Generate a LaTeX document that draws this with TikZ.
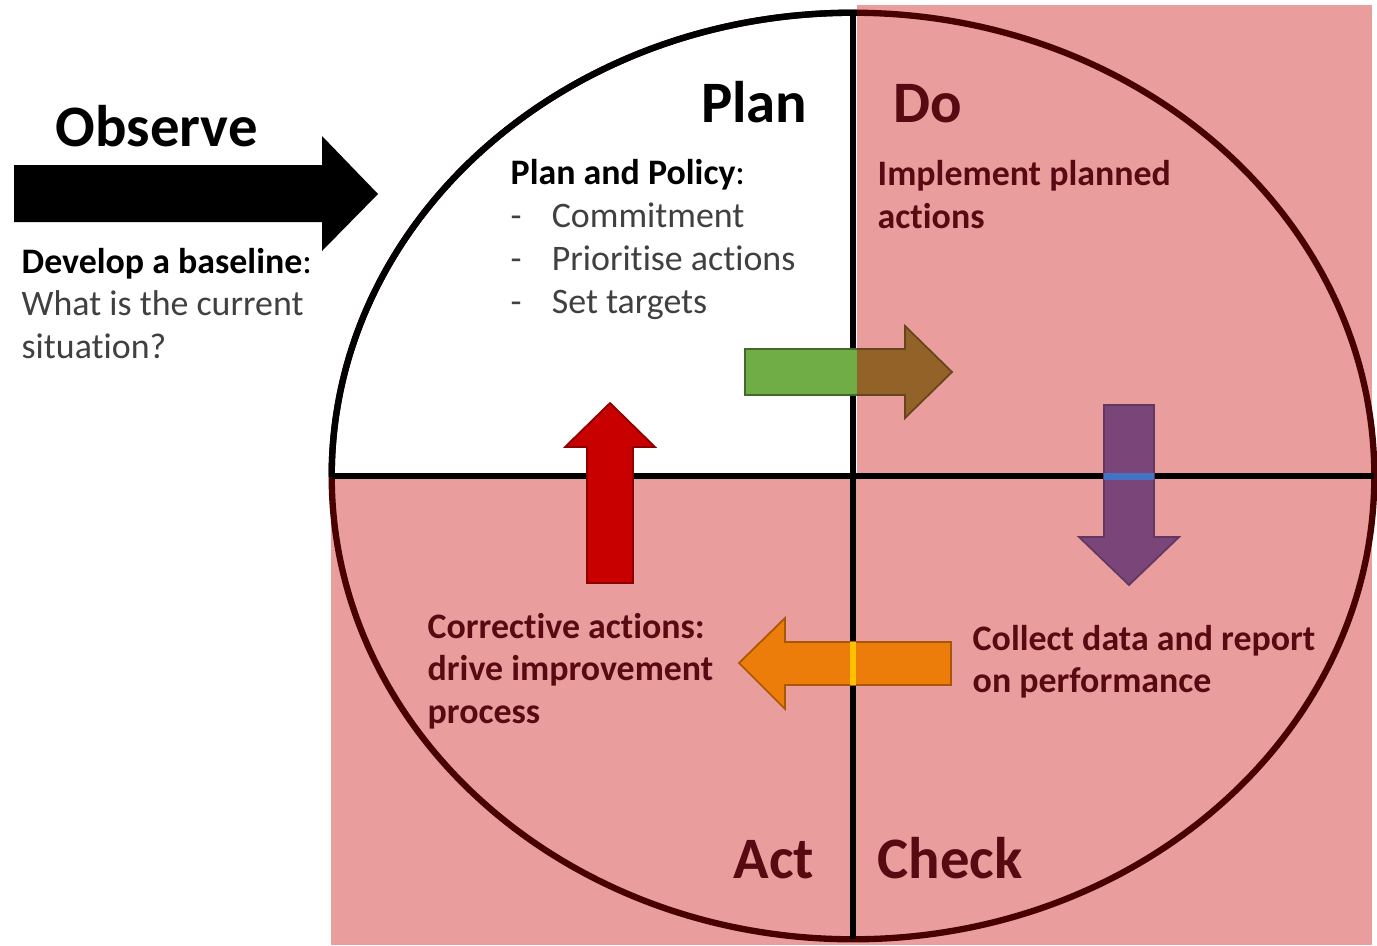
\documentclass[tikz,border=0pt]{standalone}
\usepackage{fontspec}
\setmainfont{Carlito}[Ligatures=NoCommon]
\usetikzlibrary{shapes.geometric}
\definecolor{pinkbg}{RGB}{234,157,157}
\definecolor{ringdark}{RGB}{72,0,0}
\definecolor{maroontxt}{RGB}{88,10,18}
\definecolor{graytxt}{RGB}{64,64,64}
\definecolor{arrgreen}{RGB}{112,173,71}
\definecolor{arrbrown}{RGB}{146,98,40}
\definecolor{arrpurple}{RGB}{122,70,122}
\definecolor{arrblue}{RGB}{68,114,196}
\definecolor{arrorange}{RGB}{237,125,10}
\definecolor{arryellow}{RGB}{255,192,0}
\definecolor{arrred}{RGB}{200,0,0}
\begin{document}
\begin{tikzpicture}[x=0.01cm,y=-0.01cm,
  big/.style={font=\fontsize{16.7}{20}\selectfont\bfseries, inner sep=0pt},
  txt/.style={font=\fontsize{10.2}{12}\selectfont, inner sep=0pt, anchor=base west},
  boldtxt/.style={txt, font=\fontsize{10.2}{12}\selectfont\bfseries},
  crossline/.style={line width=1.7pt, black},
  ringline/.style={line width=1.8pt},
  blockarrow/.style={line width=0.5pt}]
\useasboundingbox (0,0) rectangle (1377,945);
\fill[white] (0,0) rectangle (1377,945);
% pink quadrants
\fill[pinkbg] (857,5) rectangle (1372,945);
\fill[pinkbg] (331,478) rectangle (857,945);
% ring
\node[ellipse, draw=ringdark, ringline, minimum width=10.42cm, minimum height=9.26cm,
      inner sep=0pt, outer sep=0pt] (cycle) at (853,476) {};
\begin{scope}
  \clip (300,0) rectangle (857,476);
  \draw[black, ringline] (cycle.center) ellipse [x radius=5.21cm, y radius=4.63cm];
\end{scope}
\draw[crossline] (cycle.north) -- (cycle.south);
\draw[crossline] (cycle.west) -- (cycle.east);
% observe arrow
\fill[black] (14,165) -- (322,165) -- (322,136) -- (378,194) -- (322,251) -- (322,222) -- (14,222) -- cycle;
% green / brown arrow
\begin{scope}
  \clip (700,300) rectangle (857,450);
  \filldraw[fill=arrgreen, draw=arrgreen!60!black, blockarrow] (745,349) -- (905,349) -- (905,326) -- (952,372) -- (905,418) -- (905,395) -- (745,395) -- cycle;
\end{scope}
\begin{scope}
  \clip (857,300) rectangle (1000,450);
  \filldraw[fill=arrbrown, draw=arrbrown!70!black, blockarrow] (745,349) -- (905,349) -- (905,326) -- (952,372) -- (905,418) -- (905,395) -- (745,395) -- cycle;
\end{scope}
% purple arrow
\filldraw[fill=arrpurple, draw=arrpurple!80!black, blockarrow] (1104,405) -- (1154,405) -- (1154,537) -- (1179,537) -- (1129,585) -- (1079,537) -- (1104,537) -- cycle;
\fill[arrblue] (1104.3,473) rectangle (1153.7,479.5);
% orange arrow
\filldraw[fill=arrorange, draw=arrorange!70!black, blockarrow] (951,642) -- (785,642) -- (785,618) -- (739,663) -- (785,709) -- (785,685) -- (951,685) -- cycle;
\fill[arryellow] (850,642.3) rectangle (856,684.7);
% red arrow
\filldraw[fill=arrred, draw=arrred!70!black, blockarrow] (587,583) -- (587,447) -- (565,447) -- (610,403) -- (655,447) -- (633,447) -- (633,583) -- cycle;
% titles
\node[big, anchor=base west] (observe) at (55,146) {Observe};
\node[big, anchor=base east] (plan) at (808,122) {Plan};
\node[big, anchor=base west, text=maroontxt] (do) at (893,122) {Do};
\node[big, anchor=base east, text=maroontxt] (act) at (815,878) {Act};
\node[big, anchor=base west, text=maroontxt] (check) at (877,878) {Check};
% observe text
\node[boldtxt] (dev) at (21,273) {Develop a baseline\textmd{:}};
\node[txt, text=graytxt] (what) at (21,315) {What is the current};
\node[txt, text=graytxt] (sit) at (21,358) {situation?};
% plan text
\node[boldtxt] (pp) at (510,184) {Plan and Policy\textmd{:}};
\node[txt, text=graytxt] (l1) at (510,227) {\makebox[11.7pt][l]{-}Commitment};
\node[txt, text=graytxt] (l2) at (510,270) {\makebox[11.7pt][l]{-}Prioritise actions};
\node[txt, text=graytxt] (l3) at (510,313) {\makebox[11.7pt][l]{-}Set targets};
% do text
\node[boldtxt, text=maroontxt] (imp1) at (877,185) {Implement planned};
\node[boldtxt, text=maroontxt] (imp2) at (877,228) {actions};
% check text
\node[boldtxt, text=maroontxt] (col1) at (972,650) {Collect data and report};
\node[boldtxt, text=maroontxt] (col2) at (972,692) {on performance};
% act text
\node[boldtxt, text=maroontxt] (cor1) at (427,638) {Corrective actions:};
\node[boldtxt, text=maroontxt] (cor2) at (427,680) {drive improvement};
\node[boldtxt, text=maroontxt] (cor3) at (427,723) {process};
\end{tikzpicture}
\end{document}
